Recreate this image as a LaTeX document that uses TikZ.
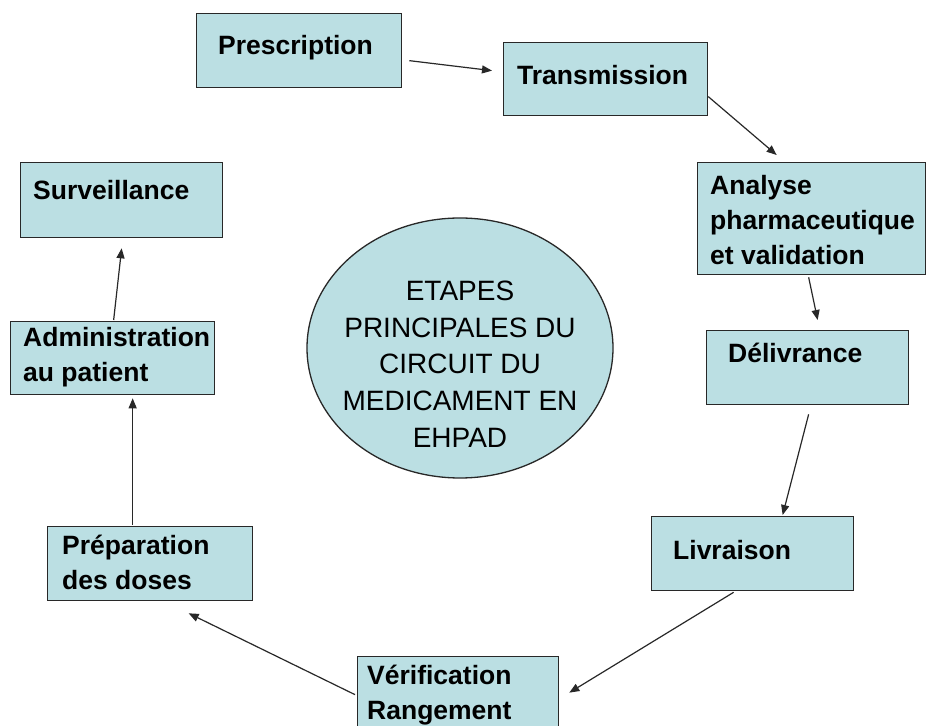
\documentclass[tikz,border=0pt]{standalone}
\usepackage{fontspec}
\setmainfont{Liberation Sans}
\usetikzlibrary{arrows.meta,shapes.geometric}
\definecolor{stepfill}{RGB}{187,223,227}
\definecolor{stepline}{RGB}{40,40,40}
\tikzset{
  stepbox/.style={draw=stepline, fill=stepfill, line width=1.3pt, inner sep=0pt,
    rectangle, anchor=north west},
  steptext/.style={anchor=north west, inner sep=0pt, align=left,
    font=\fontsize{26.5pt}{35pt}\selectfont\bfseries},
  hub/.style={draw=stepline, fill=stepfill, line width=1.3pt, ellipse, inner sep=0pt,
    minimum width=306pt, minimum height=260pt},
  hubtext/.style={inner sep=0pt, align=center,
    font=\fontsize{28pt}{36.7pt}\selectfont},
  flow/.style={draw=stepline, line width=1.2pt,
    -{Triangle[length=10pt,width=8pt]}}
}
\newcommand\firstline{\rule{0pt}{20pt}}
\begin{document}
\begin{tikzpicture}[x=1pt,y=1pt]
  \clip (0,0) rectangle (927,726);
  \fill[white] (0,0) rectangle (927,726);

  % boxes of the circuit
  \node[stepbox, minimum width=205pt, minimum height=74pt] (pres)  at (196,713) {};
  \node[stepbox, minimum width=204pt, minimum height=73pt] (trans) at (503,684) {};
  \node[stepbox, minimum width=228pt, minimum height=112pt] (anal) at (697,564) {};
  \node[stepbox, minimum width=202pt, minimum height=74pt] (deliv) at (706,396) {};
  \node[stepbox, minimum width=202pt, minimum height=74pt] (livr)  at (651,210) {};
  \node[stepbox, minimum width=201pt, minimum height=84pt] (verif) at (357,70) {};
  \node[stepbox, minimum width=205pt, minimum height=74pt] (prep)  at (47,200) {};
  \node[stepbox, minimum width=204pt, minimum height=73pt] (admin) at (10,405) {};
  \node[stepbox, minimum width=202pt, minimum height=75pt] (surv)  at (20,564) {};

  % labels inside the boxes
  \node[steptext] (presT)  at (218,692) {\firstline Prescription};
  \node[steptext] (transT) at (517,662) {\firstline Transmission};
  \node[steptext] (analT)  at (710,552) {\firstline Analyse\\pharmaceutique\\et validation};
  \node[steptext] (delivT) at (728,384) {\firstline Délivrance};
  \node[steptext] (livrT)  at (673,187) {\firstline Livraison};
  \node[steptext] (verifT) at (367,62)  {\firstline Vérification\\Rangement};
  \node[steptext] (prepT)  at (62,192)  {\firstline Préparation\\des doses};
  \node[steptext] (adminT) at (23,400)  {\firstline Administration\\au patient};
  \node[steptext] (survT)  at (33,547)  {\firstline Surveillance};

  % central title
  \node[hub] (hub) at (460,378) {};
  \node[hubtext] (hubT) at (460,362)
    {ETAPES\\PRINCIPALES DU\\CIRCUIT DU\\MEDICAMENT EN\\EHPAD};

  % arrows between the steps
  \draw[flow] ([shift={(7,-10)}]pres.east)    -- ([shift={(-11,8.5)}]trans.west);
  \draw[flow] ([shift={(0,-17.5)}]trans.east) -- ([shift={(-35,7)}]anal.north);
  \draw[flow] ([shift={(-3,-2)}]anal.south)   -- ([shift={(10,10)}]deliv.north);
  \draw[flow] ([shift={(1,-9)}]deliv.south)   -- ([shift={(30,1)}]livr.north);
  \draw[flow] ([shift={(-19,-1)}]livr.south)  -- ([shift={(10,6)}]verif.east);
  \draw[flow] ([shift={(-2,4)}]verif.west)    -- ([shift={(38.5,-12)}]prep.south);
  \draw[flow] ([shift={(-17.5,1)}]prep.north) -- ([shift={(20,-3)}]admin.south);
  \draw[flow] ([shift={(1,1)}]admin.north)    -- ([shift={(0,-10)}]surv.south);
\end{tikzpicture}
\end{document}
